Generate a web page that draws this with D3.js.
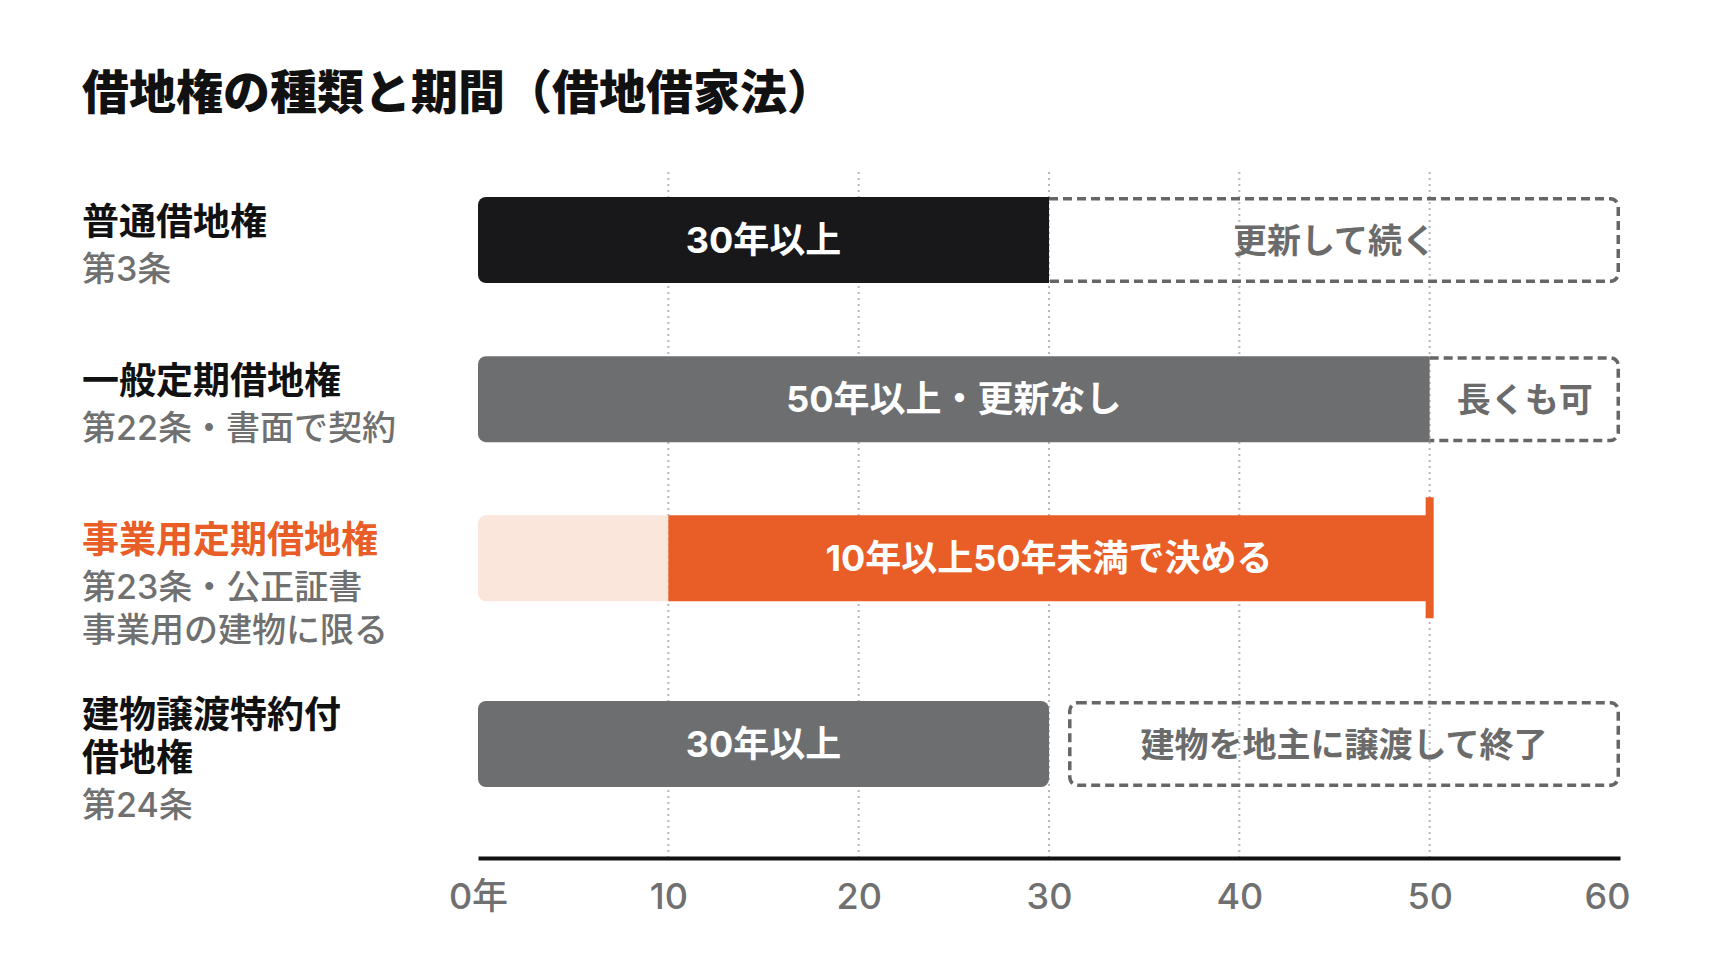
<!DOCTYPE html>
<html>
<head>
<meta charset="utf-8">
<script src="https://cdn.jsdelivr.net/npm/d3@7"></script>
<style>
  html, body { margin: 0; padding: 0; background: #fff; }
  svg { display: block; font-family: Inter, "Noto Sans CJK JP", "Noto Sans", sans-serif; }
</style>
</head>
<body>
<svg id="chart" width="1736" height="976"></svg>
<script>
const chartTitle = "借地権の種類と期間（借地借家法）";

const rowTitles = [["普通借地権"], ["一般定期借地権"], ["事業用定期借地権"], ["建物譲渡特約付", "借地権"]];
const rowNotes = [["第3条"], ["第22条・書面で契約"], ["第23条・公正証書", "事業用の建物に限る"], ["第24条"]];

// solid part of each bar (years)
const solidStart = [0, 0, 10, 0];
const solidEnd = [30, 50, 50, 30];
const solidText = ["30年以上", "50年以上・更新なし", "10年以上50年未満で決める", "30年以上"];
// dashed continuation
const extStart = [30, 50, null, 31];
const extEnd = [60, 60, null, 60];
const extText = ["更新して続く", "長くも可", null, "建物を地主に譲渡して終了"];

const tickValues = [0, 10, 20, 30, 40, 50, 60];
const tickLabels = ["0年", "10", "20", "30", "40", "50", "60"];
const gridValues = [10, 20, 30, 40, 50];

const colBlack = "#18181a", colGray = "#6d6e70", colOrange = "#e95e27", colPale = "#fbe6dc";
const colText = "#111", colSub = "#707070";

const svg = d3.select("#chart");
const axisY = 858, gridTop = 172, barH = 86, r = 8;

const x = d3.scaleLinear().domain([0, 60]).range([478, 1620]);

// row slots: each row takes 4 units plus one per label line
const rowUnits = rowTitles.map((t, i) => 4 + t.length + rowNotes[i].length);
const rowStart = [0, ...d3.cumsum(rowUnits)].slice(0, rowTitles.length);
const y = d3.scaleLinear().domain([0, rowStart[rowStart.length - 1]]).range([197, 701]);

svg.append("text")
    .attr("x", 82).attr("y", 88)
    .attr("dominant-baseline", "central")
    .attr("font-family", "Noto Sans CJK JP, sans-serif")
    .attr("font-size", 47).attr("font-weight", 900)
    .attr("fill", colText)
    .text(chartTitle);

// dotted grid
svg.append("g").selectAll("line").data(gridValues).join("line")
    .attr("x1", d => x(d)).attr("x2", d => x(d))
    .attr("y1", gridTop).attr("y2", axisY)
    .attr("stroke", "#b8b8b8").attr("stroke-width", 2)
    .attr("stroke-dasharray", "2 4");

// path with separate left / right corner radius
function barPath(x0, x1, y0, h, rl, rr) {
    const y1 = y0 + h;
    return `M${x0 + rl},${y0}H${x1 - rr}` +
        (rr ? `A${rr},${rr} 0 0 1 ${x1},${y0 + rr}` : "") +
        `V${y1 - rr}` +
        (rr ? `A${rr},${rr} 0 0 1 ${x1 - rr},${y1}` : "") +
        `H${x0 + rl}` +
        (rl ? `A${rl},${rl} 0 0 1 ${x0},${y1 - rl}` : "") +
        `V${y0 + rl}` +
        (rl ? `A${rl},${rl} 0 0 1 ${x0 + rl},${y0}` : "") + "Z";
}
// dashed outline open on the left
function openBox(x0, x1, y0, h, rr) {
    const y1 = y0 + h;
    return `M${x0},${y0}H${x1 - rr}A${rr},${rr} 0 0 1 ${x1},${y0 + rr}V${y1 - rr}A${rr},${rr} 0 0 1 ${x1 - rr},${y1}H${x0}`;
}

const fills = [colBlack, colGray, colOrange, colGray];
const rows = svg.append("g");

rowTitles.forEach((titles, i) => {
    const top = y(rowStart[i]);
    const mid = top + barH / 2;
    const g = rows.append("g");

    // pale lead-in before the solid bar
    if (solidStart[i] > 0) {
        g.append("path")
            .attr("d", barPath(x(0), x(solidStart[i]), top, barH, r, 0))
            .attr("fill", colPale);
    }
    // dashed continuation
    if (extStart[i] != null) {
        const attached = extStart[i] === solidEnd[i];
        g.append("path")
            .attr("d", attached
                ? openBox(x(extStart[i]), x(extEnd[i]) - 1.75, top + 1.75, barH - 3.5, r)
                : barPath(x(extStart[i]) + 1.75, x(extEnd[i]) - 1.75, top + 1.75, barH - 3.5, r, r))
            .attr("fill", "none")
            .attr("stroke", "#666").attr("stroke-width", 3.5)
            .attr("stroke-dasharray", "9 5");
        g.append("text")
            .attr("x", (x(extStart[i]) + x(extEnd[i])) / 2).attr("y", mid)
            .attr("text-anchor", "middle").attr("dominant-baseline", "central")
            .attr("font-size", 34).attr("font-weight", 700)
            .attr("fill", "#6b6b6b")
            .text(extText[i]);
    }
    const leftR = solidStart[i] > 0 ? 0 : r;
    const rightR = extStart[i] === solidEnd[i] || solidStart[i] > 0 ? 0 : r;
    g.append("path")
        .attr("d", barPath(x(solidStart[i]), x(solidEnd[i]), top, barH, leftR, rightR))
        .attr("fill", fills[i]);
    // end marker for the fixed-term bar
    if (solidStart[i] > 0) {
        g.append("line")
            .attr("x1", x(solidEnd[i])).attr("x2", x(solidEnd[i]))
            .attr("y1", top - 18).attr("y2", top + barH + 17)
            .attr("stroke", colOrange).attr("stroke-width", 8);
    }
    g.append("text")
        .attr("x", (x(solidStart[i]) + x(solidEnd[i])) / 2).attr("y", mid)
        .attr("text-anchor", "middle").attr("dominant-baseline", "central")
        .attr("font-size", 36).attr("font-weight", 700)
        .attr("fill", "#fff")
        .text(solidText[i]);

    // labels on the left
    let cy = top + 24 - 11 * (titles.length - 1);
    titles.forEach((t, k) => {
        if (k > 0) cy += 43;
        g.append("text")
            .attr("x", 82).attr("y", cy)
            .attr("dominant-baseline", "central")
            .attr("font-size", 37).attr("font-weight", 700)
            .attr("fill", i === 2 ? colOrange : colText)
            .text(t);
    });
    rowNotes[i].forEach((t, k) => {
        cy += k === 0 ? 47 : 43;
        g.append("text")
            .attr("x", 82).attr("y", cy)
            .attr("dominant-baseline", "central")
            .attr("font-size", 34).attr("font-weight", 500)
            .attr("fill", colSub)
            .text(t);
    });
});

// x axis
const xAxis = svg.append("g")
    .attr("transform", `translate(0,${axisY})`)
    .call(d3.axisBottom(x)
        .tickValues(tickValues)
        .tickFormat((d, i) => tickLabels[i])
        .tickSize(0)
        .tickPadding(25));
xAxis.select(".domain").attr("stroke", "#111").attr("stroke-width", 4);
xAxis.selectAll(".tick text")
    .attr("font-family", "Inter, Noto Sans CJK JP, sans-serif")
    .attr("font-size", 36).attr("font-weight", 500)
    .attr("fill", colSub);
xAxis.selectAll(".tick text").filter(d => d === 60)
    .attr("text-anchor", "end").attr("x", 10);
</script>
</body>
</html>
